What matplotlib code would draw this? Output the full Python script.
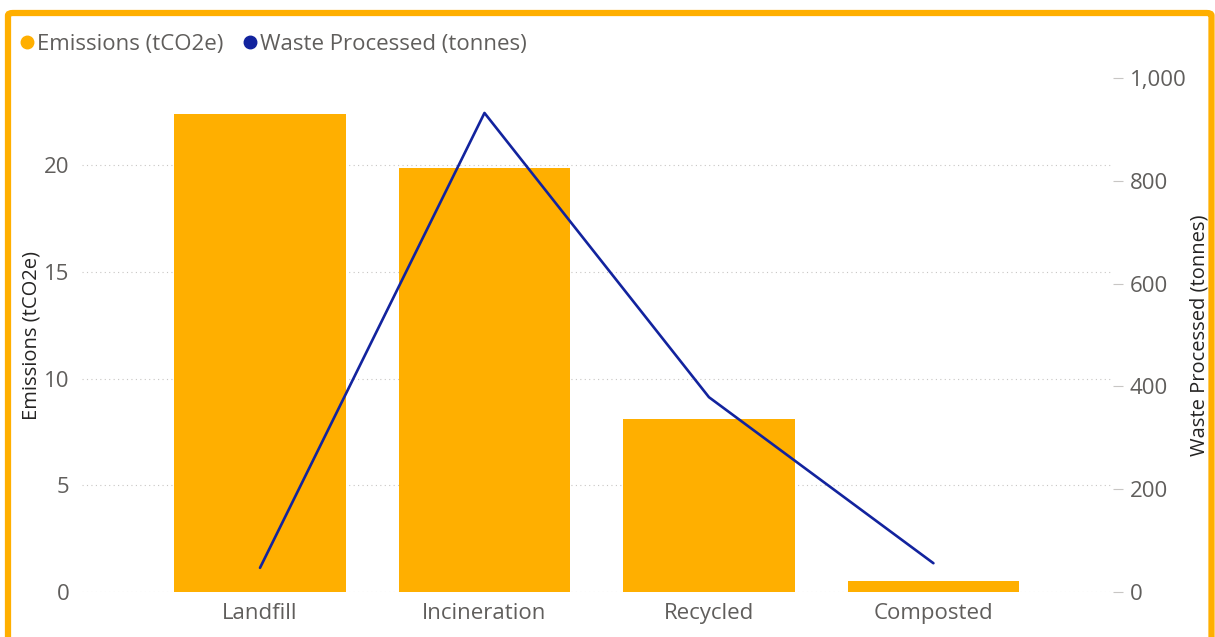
import matplotlib.pyplot as plt
from matplotlib.patches import FancyBboxPatch
from matplotlib.lines import Line2D
from matplotlib.ticker import FuncFormatter

plt.rcParams['font.family'] = ['Open Sans', 'DejaVu Sans']

categories = ["Landfill", "Incineration", "Recycled", "Composted"]
emissions = [22.4, 19.9, 8.1, 0.5]
waste = [47, 932, 379, 56]

orange = "#FFAF00"
navy = "#12239E"
grey = "#605E5C"

fig = plt.figure(figsize=(12.15, 6.37), dpi=100)
W, H = 1215, 637

# plot area in pixels
left, right, top, bottom = 82, 1113, 78, 592
ax = fig.add_axes([left / W, 1 - bottom / H, (right - left) / W, (bottom - top) / H])
ax2 = ax.twinx()

x = list(range(len(categories)))
ax.bar(x, emissions, width=0.765, color=orange, zorder=2)
ax2.plot(x, waste, color=navy, linewidth=1.9, solid_capstyle='round', zorder=3)

ax.set_xlim(-0.793, 3.80)
ax.set_ylim(0, 24.1)
ax2.set_ylim(0, 1000)

ax.set_yticks([0, 5, 10, 15, 20])
ax2.set_yticks([0, 200, 400, 600, 800, 1000])
ax2.yaxis.set_major_formatter(FuncFormatter(lambda v, p: f"{v:,.0f}"))

ax.grid(axis='y', color="#C8C6C4", linestyle=(0, (1, 3)), linewidth=0.8, zorder=0)
ax.set_axisbelow(True)
ax.set_zorder(1)
ax2.set_zorder(2)
ax.patch.set_visible(False)

for a in (ax, ax2):
    for s in a.spines.values():
        s.set_visible(False)

ax.set_xticks(x)
ax.set_xticklabels(categories)
ax.tick_params(axis='x', length=0, pad=8, labelsize=16, labelcolor=grey)
ax.tick_params(axis='y', length=0, pad=9, labelsize=16, labelcolor=grey)
ax2.tick_params(axis='y', length=7, width=0.8, color="#C8C6C4", pad=5,
                labelsize=16, labelcolor=grey)

# axis titles
fig.text(32 / W, 1 - 335 / H, "Emissions (tCO2e)", rotation=90, fontsize=14.5,
         color="#252423", ha='center', va='center')
fig.text(1200 / W, 1 - 335 / H, "Waste Processed (tonnes)", rotation=90,
         fontsize=14.5, color="#252423", ha='center', va='center')

# legend
handles = [Line2D([], [], marker='o', linestyle='none', color=orange, markersize=9),
           Line2D([], [], marker='o', linestyle='none', color=navy, markersize=9)]
fig.legend(handles, ["Emissions (tCO2e)", "Waste Processed (tonnes)"],
           loc='upper left', bbox_to_anchor=(18 / W, 1 - 34 / H), ncol=2,
           frameon=False, fontsize=16, labelcolor=grey, handletextpad=0.05,
           columnspacing=0.8, borderaxespad=0, borderpad=0, handlelength=0.8)

# card border
border = FancyBboxPatch((8 / W, -0.2), (1211.5 - 8) / W, (H - 13) / H + 0.2,
                        boxstyle="round,pad=0,rounding_size=0.004",
                        transform=fig.transFigure, facecolor='none',
                        edgecolor=orange, linewidth=4.5, zorder=10)
fig.patches.append(border)

fig.savefig("out.png", dpi=100)
